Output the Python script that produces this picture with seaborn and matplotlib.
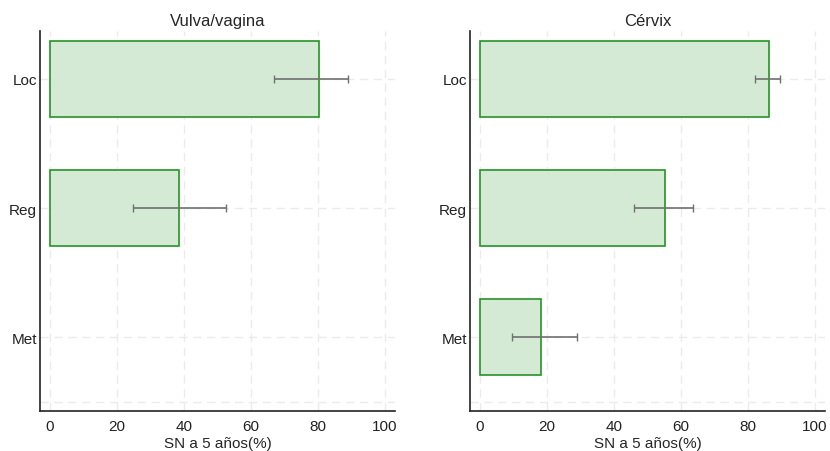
import numpy as np
import pandas as pd
import seaborn as sns
import matplotlib.pyplot as plt

stages = ["Loc", "Reg", "Met"]
panels = ["Vulva/vagina", "Cérvix"]

vulva_sn = [80.3, 38.5, np.nan]
vulva_lo = [66.9, 24.7, np.nan]
vulva_hi = [88.9, 52.4, np.nan]

cervix_sn = [86.3, 55.1, 18.2]
cervix_lo = [82.0, 46.0, 9.6]
cervix_hi = [89.7, 63.7, 29.0]

sns.set_style("white")
plt.rcParams["font.family"] = ["Liberation Sans", "DejaVu Sans"]

fig = plt.figure(figsize=(8.3, 4.52), dpi=100)
ax1 = fig.add_axes([40 / 830, 40 / 452, 355 / 830, 380 / 452])
ax2 = fig.add_axes([470 / 830, 40 / 452, 355 / 830, 380 / 452])

series = [(vulva_sn, vulva_lo, vulva_hi), (cervix_sn, cervix_lo, cervix_hi)]

for ax, title, (sn, lo, hi) in zip([ax1, ax2], panels, series):
    df = pd.DataFrame({"stage": stages, "sn": sn, "lo": lo, "hi": hi})
    sns.barplot(data=df, x="sn", y="stage", order=stages, orient="h",
                color="#d5ead5", edgecolor="#259425", linewidth=1.2,
                width=0.59, saturation=1, errorbar=None, ax=ax, zorder=2)
    d = df.dropna()
    ypos = [stages.index(s) for s in d["stage"]]
    ax.errorbar(d["sn"], ypos,
                xerr=[d["sn"] - d["lo"], d["hi"] - d["sn"]],
                fmt="none", ecolor="#707070", elinewidth=1.2,
                capsize=3, capthick=1.0, zorder=3)

    ax.set_xlim(-3, 103)
    ax.set_ylim(2.57, -0.37)
    ax.set_xticks([0, 20, 40, 60, 80, 100])
    ax.set_yticks(range(len(stages)))
    ax.set_yticklabels(stages)
    ax.grid(True, linestyle=(0, (6, 4)), color="#ebebeb", linewidth=1)
    ax.axhline(2.5, linestyle=(0, (6, 4)), color="#ebebeb", linewidth=1, zorder=0)
    ax.set_axisbelow(True)
    ax.tick_params(length=0, labelsize=11, colors="#222222")
    ax.tick_params(axis="y", pad=2)
    ax.tick_params(axis="x", pad=6)
    for s in ["top", "right"]:
        ax.spines[s].set_visible(False)
    for s in ["left", "bottom"]:
        ax.spines[s].set_color("#222222")
        ax.spines[s].set_linewidth(1.2)
    ax.set_title(title, fontsize=12, pad=4)
    ax.set_xlabel("SN a 5 años(%)", fontsize=11, labelpad=2)
    ax.set_ylabel("")

fig.savefig("out.png", dpi=100)
